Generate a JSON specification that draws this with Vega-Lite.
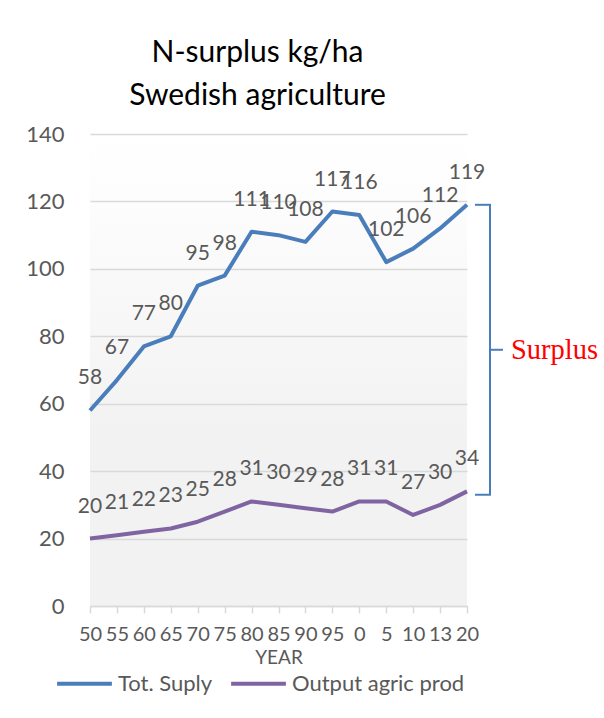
{
  "$schema": "https://vega.github.io/schema/vega-lite/v6.json",
  "width": 377,
  "height": 472,
  "autosize": {"type": "none"},
  "padding": {"left": 90, "top": 134, "right": 137, "bottom": 112},
  "background": "#ffffff",
  "config": {
    "font": "Lato",
    "view": {
      "stroke": null,
      "fill": {
        "gradient": "linear", "x1": 0, "y1": 0, "x2": 0, "y2": 1,
        "stops": [
          {"offset": 0, "color": "#ffffff"},
          {"offset": 0.12, "color": "#fdfdfd"},
          {"offset": 0.65, "color": "#f2f2f2"},
          {"offset": 1, "color": "#f2f2f2"}
        ]
      }
    }
  },
  "title": {
    "text": ["N-surplus kg/ha", "Swedish agriculture"],
    "fontSize": 30,
    "fontWeight": "normal",
    "color": "#000000",
    "lineHeight": 43,
    "anchor": "middle",
    "dx": -21,
    "offset": 12
  },
  "datasets": {
    "main": [
      {"year": "50", "series": "Tot. Suply", "value": 58},
      {"year": "55", "series": "Tot. Suply", "value": 67},
      {"year": "60", "series": "Tot. Suply", "value": 77},
      {"year": "65", "series": "Tot. Suply", "value": 80},
      {"year": "70", "series": "Tot. Suply", "value": 95},
      {"year": "75", "series": "Tot. Suply", "value": 98},
      {"year": "80", "series": "Tot. Suply", "value": 111},
      {"year": "85", "series": "Tot. Suply", "value": 110},
      {"year": "90", "series": "Tot. Suply", "value": 108},
      {"year": "95", "series": "Tot. Suply", "value": 117},
      {"year": "0", "series": "Tot. Suply", "value": 116},
      {"year": "5", "series": "Tot. Suply", "value": 102},
      {"year": "10", "series": "Tot. Suply", "value": 106},
      {"year": "13", "series": "Tot. Suply", "value": 112},
      {"year": "20", "series": "Tot. Suply", "value": 119},
      {"year": "50", "series": "Output agric prod", "value": 20},
      {"year": "55", "series": "Output agric prod", "value": 21},
      {"year": "60", "series": "Output agric prod", "value": 22},
      {"year": "65", "series": "Output agric prod", "value": 23},
      {"year": "70", "series": "Output agric prod", "value": 25},
      {"year": "75", "series": "Output agric prod", "value": 28},
      {"year": "80", "series": "Output agric prod", "value": 31},
      {"year": "85", "series": "Output agric prod", "value": 30},
      {"year": "90", "series": "Output agric prod", "value": 29},
      {"year": "95", "series": "Output agric prod", "value": 28},
      {"year": "0", "series": "Output agric prod", "value": 31},
      {"year": "5", "series": "Output agric prod", "value": 31},
      {"year": "10", "series": "Output agric prod", "value": 27},
      {"year": "13", "series": "Output agric prod", "value": 30},
      {"year": "20", "series": "Output agric prod", "value": 34}
    ],
    "bracket": [
      {"year": "20", "hi": 119, "lo": 33, "mid": 76, "label": "Surplus"}
    ]
  },
  "layer": [
    {
      "data": {"name": "main"},
      "mark": {"type": "line", "strokeWidth": 4, "strokeJoin": "round"},
      "encoding": {
        "x": {
          "field": "year", "type": "ordinal", "sort": null,
          "scale": {"type": "point", "padding": 0, "domain": ["50", "55", "60", "65", "70", "75", "80", "85", "90", "95", "0", "5", "10", "13", "20"]},
          "axis": {
            "title": "YEAR",
            "titleFontSize": 19,
            "titleFontWeight": "normal",
            "titleColor": "#595959",
            "titlePadding": 4,
            "labelAngle": 0,
            "labelFontSize": 20,
            "labelColor": "#595959",
            "labelPadding": 11,
            "labelOverlap": false,
            "labelFlush": false,
            "domainColor": "#d9d9d9",
            "domainWidth": 1.5,
            "tickColor": "#d9d9d9",
            "tickSize": 7,
            "tickWidth": 1.5,
            "grid": false
          }
        },
        "y": {
          "field": "value", "type": "quantitative",
          "scale": {"domain": [0, 140], "nice": false},
          "axis": {
            "title": null,
            "values": [0, 20, 40, 60, 80, 100, 120, 140],
            "labelFontSize": 22,
            "labelColor": "#595959",
            "labelPadding": 26,
            "domain": false,
            "ticks": false,
            "gridColor": "#d9d9d9",
            "gridWidth": 1.5
          }
        },
        "color": {
          "field": "series", "type": "nominal",
          "scale": {"domain": ["Tot. Suply", "Output agric prod"], "range": ["#4a7ebb", "#8064a2"]},
          "legend": {
            "title": null,
            "orient": "none",
            "legendX": -35,
            "legendY": 520,
            "direction": "horizontal",
            "symbolType": "stroke",
            "symbolSize": 3000,
            "symbolStrokeWidth": 4,
            "labelFontSize": 22,
            "labelColor": "#595959",
            "columnPadding": 10,
            "labelLimit": 300
          }
        }
      }
    },
    {
      "data": {"name": "main"},
      "mark": {"type": "text", "fontSize": 21, "color": "#595959", "baseline": "middle", "dy": -32},
      "encoding": {
        "x": {"field": "year", "type": "ordinal", "sort": null},
        "y": {"field": "value", "type": "quantitative"},
        "text": {"field": "value", "type": "quantitative"}
      }
    },
    {
      "data": {"name": "bracket"},
      "mark": {"type": "rule", "color": "#4a7ebb", "strokeWidth": 2, "xOffset": 23},
      "encoding": {
        "x": {"field": "year", "type": "ordinal", "sort": null},
        "y": {"field": "hi", "type": "quantitative"},
        "y2": {"field": "lo"}
      }
    },
    {
      "data": {"name": "bracket"},
      "mark": {"type": "rule", "color": "#4a7ebb", "strokeWidth": 2, "xOffset": 8, "x2Offset": 24},
      "encoding": {
        "x": {"field": "year", "type": "ordinal", "sort": null},
        "x2": {"field": "year"},
        "y": {"field": "hi", "type": "quantitative"}
      }
    },
    {
      "data": {"name": "bracket"},
      "mark": {"type": "rule", "color": "#4a7ebb", "strokeWidth": 2, "xOffset": 8, "x2Offset": 24},
      "encoding": {
        "x": {"field": "year", "type": "ordinal", "sort": null},
        "x2": {"field": "year"},
        "y": {"field": "lo", "type": "quantitative"}
      }
    },
    {
      "data": {"name": "bracket"},
      "mark": {"type": "rule", "color": "#4a7ebb", "strokeWidth": 2, "xOffset": 22, "x2Offset": 36},
      "encoding": {
        "x": {"field": "year", "type": "ordinal", "sort": null},
        "x2": {"field": "year"},
        "y": {"field": "mid", "type": "quantitative"}
      }
    },
    {
      "data": {"name": "bracket"},
      "mark": {"type": "text", "font": "Liberation Serif", "fontSize": 28.5, "color": "#ff0000", "align": "left", "baseline": "middle", "dx": 44},
      "encoding": {
        "x": {"field": "year", "type": "ordinal", "sort": null},
        "y": {"field": "mid", "type": "quantitative"},
        "text": {"field": "label"}
      }
    }
  ]
}
